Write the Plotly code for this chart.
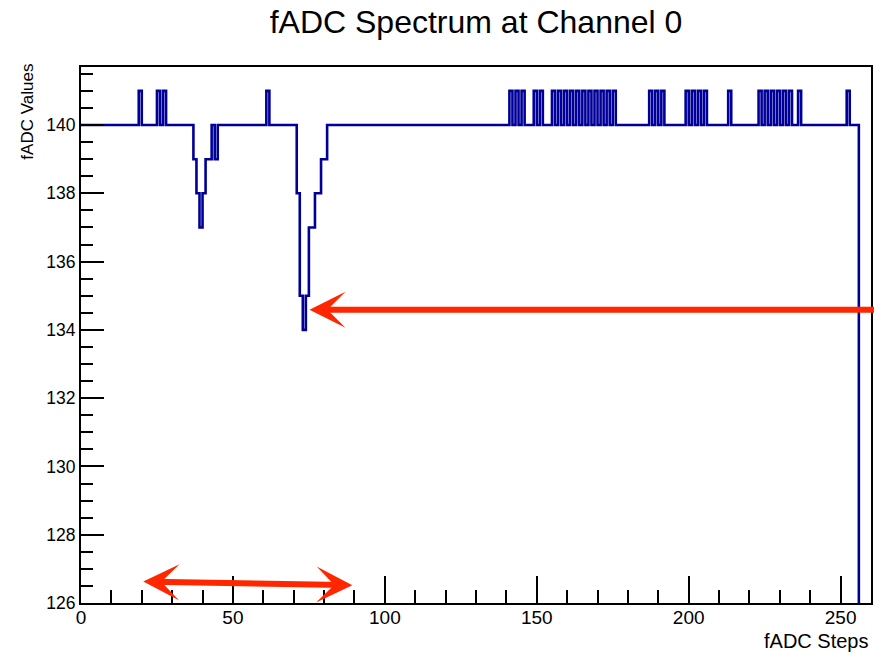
import plotly.graph_objects as go

# ---- data (fADC value per step/bin) ----
fadc_values = [
    140, 140, 140, 140, 140, 140, 140, 140, 140, 140,   # 0-9
    140, 140, 140, 140, 140, 140, 140, 140, 140, 141,   # 10-19
    140, 140, 140, 140, 140, 141, 140, 141, 140, 140,   # 20-29
    140, 140, 140, 140, 140, 140, 140, 139, 138, 137,   # 30-39
    138, 139, 139, 140, 139, 140, 140, 140, 140, 140,   # 40-49
    140, 140, 140, 140, 140, 140, 140, 140, 140, 140,   # 50-59
    140, 141, 140, 140, 140, 140, 140, 140, 140, 140,   # 60-69
    140, 138, 135, 134, 135, 137, 137, 138, 138, 139,   # 70-79
    139, 140, 140, 140, 140, 140, 140, 140, 140, 140,   # 80-89
    140, 140, 140, 140, 140, 140, 140, 140, 140, 140,   # 90-99
    140, 140, 140, 140, 140, 140, 140, 140, 140, 140,   # 100-109
    140, 140, 140, 140, 140, 140, 140, 140, 140, 140,   # 110-119
    140, 140, 140, 140, 140, 140, 140, 140, 140, 140,   # 120-129
    140, 140, 140, 140, 140, 140, 140, 140, 140, 140,   # 130-139
    140, 141, 140, 141, 140, 141, 140, 140, 140, 141,   # 140-149
    140, 141, 140, 140, 140, 141, 140, 141, 140, 141,   # 150-159
    140, 141, 140, 141, 140, 141, 140, 141, 140, 141,   # 160-169
    140, 141, 140, 141, 140, 141, 140, 140, 140, 140,   # 170-179
    140, 140, 140, 140, 140, 140, 140, 141, 140, 141,   # 180-189
    140, 141, 140, 140, 140, 140, 140, 140, 140, 141,   # 190-199
    140, 141, 140, 141, 140, 141, 140, 140, 140, 140,   # 200-209
    140, 140, 140, 141, 140, 140, 140, 140, 140, 140,   # 210-219
    140, 140, 140, 141, 140, 141, 140, 141, 140, 141,   # 220-229
    140, 141, 140, 141, 140, 140, 141, 140, 140, 140,   # 230-239
    140, 140, 140, 140, 140, 140, 140, 140, 140, 140,   # 240-249
    140, 140, 141, 140, 140, 140, 0, 0, 0, 0,           # 250-259
]
n_bins = len(fadc_values)
bin_edges = list(range(0, n_bins + 1))
step_y = fadc_values + [fadc_values[-1]]

x_tick_vals = [0, 50, 100, 150, 200, 250]
y_tick_vals = [126, 128, 130, 132, 134, 136, 138, 140]

FONT = "Liberation Sans, Arial, Helvetica, sans-serif"
RED = "#ff2600"

fig = go.Figure()
fig.add_trace(go.Scatter(
    x=bin_edges, y=step_y, mode="lines",
    line=dict(shape="hv", color="#000099", width=2.6),
    hoverinfo="skip", showlegend=False,
))

fig.update_layout(
    width=874, height=654,
    margin=dict(l=81, r=1, t=67, b=51),
    paper_bgcolor="white", plot_bgcolor="white",
    showlegend=False,
    title=dict(text="fADC Spectrum at Channel 0", x=0.5, xref="paper",
               y=1 - 21.5 / 654, yref="container", yanchor="middle", xanchor="center",
               font=dict(family=FONT, size=32, color="black")),
    font=dict(family=FONT, color="black"),
)

fig.update_xaxes(
    range=[0, 260], tickvals=x_tick_vals, ticktext=[str(v) for v in x_tick_vals],
    ticks="inside", ticklen=27, tickwidth=2, tickcolor="black",
    minor=dict(ticks="inside", ticklen=13, tickwidth=2, tickcolor="black", dtick=10, tick0=0),
    showline=True, linewidth=2, linecolor="black", mirror=True,
    showgrid=False, zeroline=False,
    ticklabelstandoff=-4,
    tickfont=dict(family=FONT, size=19, color="black"),
)
fig.update_yaxes(
    range=[126, 141.7], tickvals=y_tick_vals, ticktext=[str(v) for v in y_tick_vals],
    ticks="inside", ticklen=23, tickwidth=2, tickcolor="black",
    minor=dict(ticks="inside", ticklen=12, tickwidth=2, tickcolor="black", dtick=0.5, tick0=126),
    showline=True, linewidth=2, linecolor="black", mirror=True,
    showgrid=False, zeroline=False,
    tickfont=dict(family=FONT, size=17.5, color="black"),
)

annotations = [
    # axis titles (ROOT style, aligned at axis ends)
    dict(text="fADC Values", textangle=-90, xref="paper", yref="paper",
         x=(27 - 81) / 792, y=(603 - 111.5) / 536, xanchor="center", yanchor="middle",
         showarrow=False, font=dict(family=FONT, size=17, color="black")),
    dict(text="fADC Steps", xref="paper", yref="paper",
         x=(872 - 81) / 792, y=(603 - 641) / 536, xanchor="right", yanchor="middle",
         showarrow=False, font=dict(family=FONT, size=20, color="black")),
    # red arrow pointing at the deepest dip
    dict(text="", x=75.2, y=134.59, xref="x", yref="y",
         ax=262, ay=134.59, axref="x", ayref="y",
         showarrow=True, arrowhead=3, arrowsize=1, arrowwidth=6, arrowcolor=RED,
         standoff=0, startstandoff=0),
    # double-headed red arrow near the bottom
    dict(text="", x=89.3, y=126.52, xref="x", yref="y",
         ax=20.0, ay=126.63, axref="x", ayref="y",
         showarrow=True, arrowhead=3, arrowsize=1, arrowwidth=6, arrowcolor=RED,
         arrowside="end+start", startarrowhead=3, startarrowsize=1,
         standoff=0, startstandoff=0),
]
fig.update_layout(annotations=annotations)

fig.write_html(
    "out.html",
    config={"displayModeBar": False},
    post_script="document.body.style.margin='0';document.body.style.overflow='hidden';",
)
